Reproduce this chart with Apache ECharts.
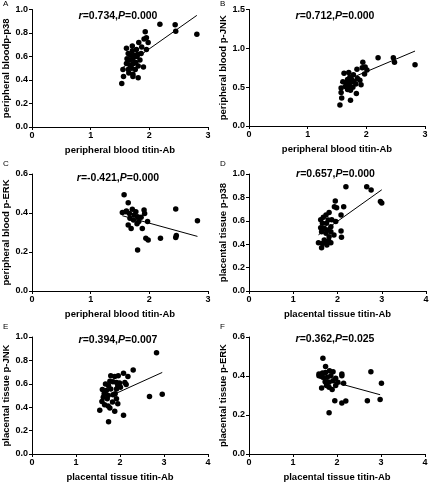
<!DOCTYPE html>
<html>
<head>
<meta charset="utf-8">
<script src="https://cdn.jsdelivr.net/npm/echarts@6/dist/echarts.min.js"></script>
<style>
  html, body { margin: 0; padding: 0; background: #fff; }
  #chart { width: 432px; height: 483px; }
</style>
</head>
<body>
<div id="chart"></div>
<script>
// panel A: peripheral blood titin-Ab vs p-p38
const aX = [2.18, 2.44, 2.45, 2.81, 1.93, 1.91, 1.95, 1.98, 1.82, 1.95, 1.87, 1.61, 1.71, 1.71, 1.78, 1.64, 1.68, 1.74, 1.80, 1.86, 1.62, 1.66, 1.72, 1.77, 1.84, 1.79, 1.61, 1.67, 1.73, 1.81, 1.64, 1.70, 1.76, 1.55, 1.90, 1.56, 1.72, 1.81, 1.72, 1.53, 1.65]
const aY = [0.875, 0.87, 0.815, 0.79, 0.81, 0.75, 0.76, 0.72, 0.72, 0.66, 0.68, 0.67, 0.69, 0.65, 0.66, 0.625, 0.61, 0.61, 0.62, 0.625, 0.58, 0.57, 0.58, 0.55, 0.57, 0.60, 0.54, 0.525, 0.54, 0.52, 0.49, 0.50, 0.49, 0.49, 0.51, 0.43, 0.43, 0.42, 0.45, 0.37, 0.46]
const aLineX = [1.53, 2.81]
const aLineY = [0.50, 0.95]

// panel B: peripheral blood titin-Ab vs p-JNK
const bX = [2.20, 2.46, 2.48, 2.83, 1.94, 1.93, 1.98, 2.01, 1.84, 1.97, 1.62, 1.70, 1.78, 1.72, 1.68, 1.76, 1.85, 1.89, 1.60, 1.66, 1.73, 1.82, 1.79, 1.64, 1.70, 1.77, 1.57, 1.91, 1.68, 1.73, 1.57, 1.83, 1.58, 1.73, 1.55]
const bY = [0.88, 0.88, 0.82, 0.79, 0.82, 0.75, 0.76, 0.72, 0.73, 0.67, 0.68, 0.69, 0.66, 0.63, 0.60, 0.59, 0.61, 0.59, 0.57, 0.55, 0.56, 0.54, 0.57, 0.51, 0.51, 0.50, 0.49, 0.53, 0.47, 0.46, 0.43, 0.42, 0.36, 0.33, 0.27]
const bLineX = [1.55, 2.83]
const bLineY = [0.556, 0.965]

// panel C: peripheral blood titin-Ab vs p-ERK
const cX = [1.57, 1.64, 1.54, 1.60, 1.66, 1.71, 1.74, 1.77, 1.67, 1.73, 1.80, 1.82, 1.91, 1.92, 1.86, 1.64, 1.69, 1.79, 1.88, 1.97, 1.94, 1.98, 2.19, 2.45, 2.45, 2.46, 2.82, 1.80, 1.61]
const cY = [0.494, 0.453, 0.403, 0.407, 0.398, 0.419, 0.39, 0.407, 0.373, 0.364, 0.381, 0.356, 0.415, 0.398, 0.378, 0.338, 0.321, 0.345, 0.321, 0.356, 0.27, 0.262, 0.27, 0.42, 0.275, 0.284, 0.36, 0.21, 0.41]
const cLineX = [1.54, 2.82]
const cLineY = [0.386, 0.28]

// panel D: placental tissue titin-Ab vs p-p38
const dX = [2.19, 2.66, 2.76, 2.97, 3.00, 1.95, 1.93, 1.98, 2.14, 2.08, 1.81, 1.74, 1.68, 1.87, 1.62, 1.79, 1.66, 1.75, 1.96, 1.85, 1.62, 1.70, 1.77, 1.64, 1.85, 1.74, 1.92, 2.08, 2.09, 1.81, 1.57, 1.66, 1.74, 1.80, 1.85, 1.64, 1.76, 1.70]
const dY = [0.89, 0.89, 0.863, 0.764, 0.752, 0.77, 0.72, 0.712, 0.72, 0.65, 0.672, 0.65, 0.63, 0.61, 0.61, 0.607, 0.578, 0.578, 0.593, 0.55, 0.54, 0.536, 0.521, 0.507, 0.507, 0.493, 0.479, 0.513, 0.459, 0.464, 0.413, 0.407, 0.422, 0.43, 0.413, 0.37, 0.393, 0.436]
const dLineX = [1.57, 3.0]
const dLineY = [0.48, 0.865]

// panel E: placental tissue titin-Ab vs p-JNK
const eX = [2.83, 2.30, 2.08, 1.96, 2.18, 1.79, 1.88, 1.77, 1.84, 1.92, 1.99, 2.11, 1.67, 1.74, 1.95, 2.14, 1.60, 1.69, 1.79, 1.92, 2.01, 1.64, 1.73, 1.84, 1.89, 1.62, 1.71, 1.92, 1.59, 1.65, 1.73, 1.77, 1.95, 1.88, 1.54, 1.74, 2.08, 2.67, 2.96, 1.83]
const eY = [0.865, 0.719, 0.691, 0.669, 0.663, 0.669, 0.663, 0.621, 0.618, 0.612, 0.607, 0.612, 0.598, 0.584, 0.584, 0.593, 0.551, 0.542, 0.556, 0.556, 0.57, 0.514, 0.50, 0.506, 0.514, 0.486, 0.472, 0.472, 0.449, 0.421, 0.41, 0.393, 0.43, 0.365, 0.374, 0.275, 0.331, 0.492, 0.511, 0.444]
const eLineX = [1.54, 2.96]
const eLineY = [0.455, 0.697]

// panel F: placental tissue titin-Ab vs p-ERK
const fX = [1.68, 1.74, 1.59, 1.67, 1.74, 1.83, 1.91, 2.11, 2.11, 2.77, 1.68, 1.78, 1.86, 1.97, 1.73, 1.82, 1.91, 2.02, 2.15, 1.65, 1.82, 1.89, 1.97, 1.76, 3.01, 1.95, 2.11, 2.20, 2.69, 2.98, 1.82, 1.59]
const fY = [0.491, 0.449, 0.41, 0.415, 0.418, 0.427, 0.422, 0.41, 0.401, 0.422, 0.393, 0.393, 0.401, 0.388, 0.371, 0.368, 0.376, 0.368, 0.363, 0.339, 0.342, 0.331, 0.351, 0.351, 0.363, 0.273, 0.261, 0.272, 0.273, 0.28, 0.212, 0.401]
const fLineX = [1.59, 2.98]
const fLineY = [0.39, 0.304]

// layout per panel; noteTop = top of the r/P text
const panels = [
  {tag: 'A', x: aX, y: aY, lx: aLineX, ly: aLineY, xMax: 3, yMax: 1.0, yStep: 0.2,
    xName: 'peripheral blood titin-Ab', yName: 'peripheral bloodp-p38', r: '0.734', p: '0.000',
    left: 32, top: 9.5, w: 176, h: 117.5, noteTop: 11},
  {tag: 'B', x: bX, y: bY, lx: bLineX, ly: bLineY, xMax: 3, yMax: 1.5, yStep: 0.5,
    xName: 'peripheral blood titin-Ab', yName: 'peripheral blood p-JNK', r: '0.712', p: '0.000',
    left: 249, top: 9.5, w: 176, h: 116.5, noteTop: 11},
  {tag: 'C', x: cX, y: cY, lx: cLineX, ly: cLineY, xMax: 3, yMax: 0.6, yStep: 0.2,
    xName: 'peripheral blood titin-Ab', yName: 'peripheral blood p-ERK', r: '-0.421', p: '0.000',
    left: 32, top: 174, w: 176, h: 117, noteTop: 173},
  {tag: 'D', x: dX, y: dY, lx: dLineX, ly: dLineY, xMax: 4, yMax: 1.0, yStep: 0.2,
    xName: 'placental tissue titin-Ab', yName: 'placental tissue p-p38', r: '0.657', p: '0.000',
    left: 249, top: 174, w: 177, h: 117, noteTop: 168.5},
  {tag: 'E', x: eX, y: eY, lx: eLineX, ly: eLineY, xMax: 4, yMax: 1.0, yStep: 0.2,
    xName: 'placental tissue titin-Ab', yName: 'placental tissue p-JNK', r: '0.394', p: '0.007',
    left: 32, top: 337, w: 176, h: 119, noteTop: 334.5},
  {tag: 'F', x: fX, y: fY, lx: fLineX, ly: fLineY, xMax: 4, yMax: 0.6, yStep: 0.2,
    xName: 'placental tissue titin-Ab', yName: 'placental tissue p-ERK', r: '0.362', p: '0.025',
    left: 249, top: 337, w: 176, h: 119, noteTop: 334}
]

const font = 'Liberation Sans, Arial, sans-serif'
const axisLine = {show: true, onZero: false, lineStyle: {color: '#000', width: 1}}
const axisTick = {show: true, inside: false, length: 3, lineStyle: {color: '#000', width: 1}}

let grid = []
let xAxis = []
let yAxis = []
let series = []
let title = []

panels.forEach(function (p, i) {
  grid.push({left: p.left, top: p.top, width: p.w, height: p.h, containLabel: false})
  xAxis.push({
    type: 'value', gridIndex: i, min: 0, max: p.xMax, interval: 1,
    name: p.xName, nameLocation: 'middle', nameGap: 18,
    nameTextStyle: {color: '#000', fontSize: 9.5, fontWeight: 'bold', fontFamily: font},
    axisLine: axisLine, axisTick: axisTick, splitLine: {show: false},
    axisLabel: {color: '#000', fontSize: 9, fontWeight: 'bold', fontFamily: font, margin: 4}
  })
  yAxis.push({
    type: 'value', gridIndex: i, min: 0, max: p.yMax, interval: p.yStep,
    name: p.yName, nameLocation: 'middle', nameGap: 19, nameRotate: 90,
    nameTextStyle: {color: '#000', fontSize: 9.5, fontWeight: 'bold', fontFamily: font},
    axisLine: axisLine, axisTick: axisTick, splitLine: {show: false},
    axisLabel: {
      color: '#000', fontSize: 9, fontWeight: 'bold', fontFamily: font, margin: 4,
      formatter: function (v) { return v.toFixed(1) }
    }
  })
  let pts = []
  for (let k = 0; k < p.x.length; k++) {
    pts.push([p.x[k], p.y[k]])
  }
  series.push({
    type: 'scatter', xAxisIndex: i, yAxisIndex: i, data: pts,
    symbolSize: 5.5, itemStyle: {color: '#000', opacity: 1}, silent: true
  })
  series.push({
    type: 'line', xAxisIndex: i, yAxisIndex: i,
    data: [[p.lx[0], p.ly[0]], [p.lx[1], p.ly[1]]],
    showSymbol: false, lineStyle: {color: '#000', width: 1}, silent: true
  })
  title.push({
    text: '{i|r}=' + p.r + ',{i|P}=' + p.p,
    left: p.left + p.w / 2 - 2, top: p.noteTop, textAlign: 'center', padding: 0,
    textStyle: {
      fontSize: 10.5, fontWeight: 'bold', fontFamily: font, color: '#000',
      rich: {
        i: {fontSize: 10.5, fontWeight: 'bold', fontStyle: 'italic', fontFamily: font, color: '#000'}
      }
    }
  })
  title.push({
    text: p.tag, left: p.left - 29, top: Math.max(0, p.top - 14), padding: 0,
    textStyle: {fontSize: 8, fontWeight: 'normal', fontFamily: font, color: '#000'}
  })
})

let myChart = echarts.init(document.getElementById('chart'), null, {renderer: 'canvas'})
myChart.setOption({
  animation: false,
  title: title,
  grid: grid,
  xAxis: xAxis,
  yAxis: yAxis,
  series: series
})
</script>
</body>
</html>
